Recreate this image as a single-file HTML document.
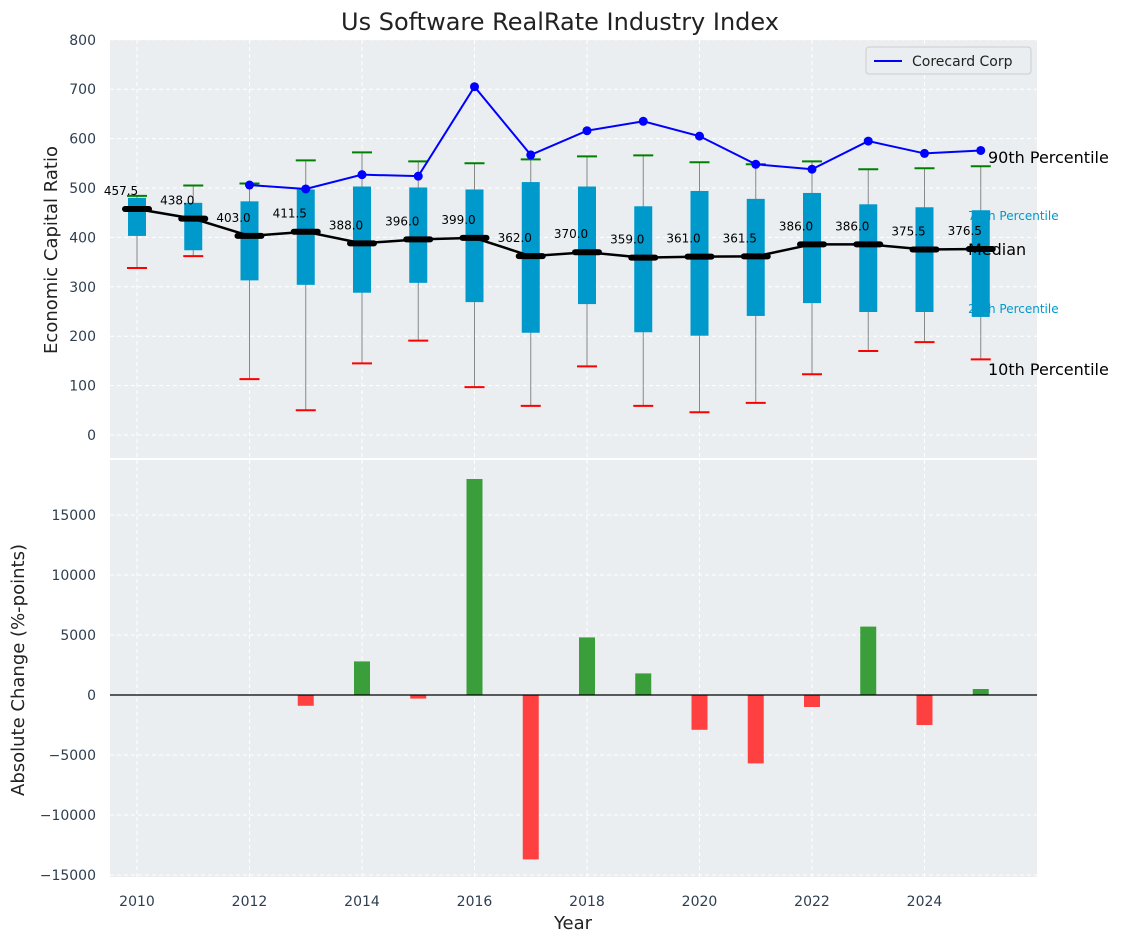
<!DOCTYPE html>
<html><head><meta charset="utf-8"><style>
body{margin:0;background:#fff;font-family:"Liberation Sans","DejaVu Sans",sans-serif}
svg text{font-family:"DejaVu Sans","Liberation Sans",sans-serif}
</style></head><body>
<svg id="chart" width="1123" height="942" xmlns="http://www.w3.org/2000/svg">
<text x="560" y="30" text-anchor="middle" font-size="24" fill="#222">Us Software RealRate Industry Index</text>
<rect x="110" y="40" width="927" height="418" fill="#eaeef0"/>
<rect x="110" y="460" width="927" height="417" fill="#eaeef0"/>
<g id="grid"></g><g id="marks"></g><g id="axes"></g>
<text x="57" y="250" text-anchor="middle" font-size="18" fill="#222" transform="rotate(-90 57 250)">Economic Capital Ratio</text>
<text x="24" y="670" text-anchor="middle" font-size="18" fill="#222" transform="rotate(-90 24 670)">Absolute Change (%-points)</text>
<text x="573" y="929" text-anchor="middle" font-size="18" fill="#222">Year</text>
<g>
<rect x="866" y="47" width="165" height="27" fill="#eaeef0" stroke="#ccc" rx="3"/>
<line x1="874" y1="61" x2="902" y2="61" stroke="#0000ff" stroke-width="2"/>
<text x="912" y="66" font-size="14" fill="#222">Corecard Corp</text>
</g>
<text x="988" y="163" font-size="16" fill="#000">90th Percentile</text>
<text x="968" y="220" font-size="12" fill="#0099cc">75th Percentile</text>
<text x="968" y="255" font-size="16" fill="#000">Median</text>
<text x="968" y="313" font-size="12" fill="#0099cc">25th Percentile</text>
<text x="988" y="375" font-size="16" fill="#000">10th Percentile</text>
</svg>
<script>
const years=[2010,2011,2012,2013,2014,2015,2016,2017,2018,2019,2020,2021,2022,2023,2024,2025];
const median=[457.5,438,403,411.5,388,396,399,362,370,359,361,361.5,386,386,375.5,376.5];
const p25=[403,374,313,304,288,308,269,207,265,208,201,241,267,249,249,239];
const p75=[480,470,473,497,503,501,497,512,503,463,494,478,490,467,461,455];
const p90=[484,505,509,556,572,554,550,558,564,566,552,548,554,538,540,544];
const p10=[338,362,113,50,145,191,97,59,139,59,46,65,123,170,188,153];
const coreYears=[2012,2013,2014,2015,2016,2017,2018,2019,2020,2021,2022,2023,2024,2025];
const core=[506,498,527,524,705,567,616,635,605,548,538,595,570,576];
const changeYears=[2013,2014,2015,2016,2017,2018,2019,2020,2021,2022,2023,2024,2025];
const changes=[-900,2800,-300,18000,-13700,4800,1800,-2900,-5700,-1000,5700,-2500,500];
const topTicks=[0,100,200,300,400,500,600,700,800];
const botTicks=[-15000,-10000,-5000,0,5000,10000,15000];
const xTicks=[2010,2012,2014,2016,2018,2020,2022,2024];
const NS="http://www.w3.org/2000/svg";
const X=v=>137+(v-2010)*56.25;
const Y1=v=>435-v*0.494;
const Y2=v=>695-v*0.012;
const fmt=t=>t<0?'\u2212'+Math.abs(t):String(t);
function mk(p,t,a){const e=document.createElementNS(NS,t);for(const k in a)e.setAttribute(k,a[k]);document.getElementById(p).appendChild(e);return e;}
topTicks.forEach(t=>{
 const l=mk('grid','line',{x1:110,x2:1037,y1:Y1(t),y2:Y1(t),stroke:'#fff','stroke-dasharray':'4,3'});
 
 const tx=mk('axes','text',{x:96,y:Y1(t)+5,'text-anchor':'end','font-size':14,fill:'#2e3e50'});tx.textContent=fmt(t);
 
});
botTicks.forEach(t=>{
 const l=mk('grid','line',{x1:110,x2:1037,y1:Y2(t),y2:Y2(t),stroke:'#fff','stroke-dasharray':'4,3'});
 
 const tx=mk('axes','text',{x:96,y:Y2(t)+5,'text-anchor':'end','font-size':14,fill:'#2e3e50'});tx.textContent=fmt(t);
 
});
xTicks.forEach(t=>{
 [[40,458],[460,877]].forEach(r=>{const l=mk('grid','line',{x1:X(t),x2:X(t),y1:r[0],y2:r[1],stroke:'#fff','stroke-dasharray':'4,3'});
 });
 const tx=mk('axes','text',{x:X(t),y:906,'text-anchor':'middle','font-size':14,fill:'#2e3e50'});tx.textContent=t;
 
});
years.forEach((y,i)=>{
 const x=X(y);
 let e=mk('marks','line',{x1:x,x2:x,y1:Y1(p10[i]),y2:Y1(p90[i]),stroke:'#888','stroke-width':1});
 
 e=mk('marks','rect',{x:x-9,y:Y1(p75[i]),width:18,height:Y1(p25[i])-Y1(p75[i]),fill:'#0099cc'});
 
 e=mk('marks','line',{x1:x-10,x2:x+10,y1:Y1(p90[i]),y2:Y1(p90[i]),stroke:'green','stroke-width':2});
 
 e=mk('marks','line',{x1:x-10,x2:x+10,y1:Y1(p10[i]),y2:Y1(p10[i]),stroke:'red','stroke-width':2});
 
});
let e=mk('marks','polyline',{points:years.map((y,i)=>X(y)+','+Y1(median[i])).join(' '),fill:'none',stroke:'#000','stroke-width':2.5});

years.forEach((y,i)=>{
 const x=X(y);
 e=mk('marks','line',{x1:x-12,x2:x+12,y1:Y1(median[i]),y2:Y1(median[i]),stroke:'#000','stroke-width':6,'stroke-linecap':'round'});
 
 e=mk('marks','text',{x:x-16,y:Y1(median[i])-14,'text-anchor':'middle','font-size':12,fill:'#000'});e.textContent=median[i].toFixed(1);
 
});
e=mk('marks','polyline',{points:coreYears.map((y,i)=>X(y)+','+Y1(core[i])).join(' '),fill:'none',stroke:'#0000ff','stroke-width':2});

coreYears.forEach((y,i)=>{
 e=mk('marks','circle',{cx:X(y),cy:Y1(core[i]),r:4.5,fill:'#0000ff'});
 
});
changeYears.forEach((y,i)=>{
 const v=changes[i];
 e=mk('marks','rect',{x:X(y)-8,y:Math.min(Y2(v),Y2(0)),width:16,height:Math.abs(Y2(v)-Y2(0)),fill:v>=0?'#3a9e3a':'#ff4040'});
 
});
e=mk('marks','line',{x1:110,x2:1037,y1:Y2(0),y2:Y2(0),stroke:'#000','stroke-width':1.2});

</script>
</body></html>
